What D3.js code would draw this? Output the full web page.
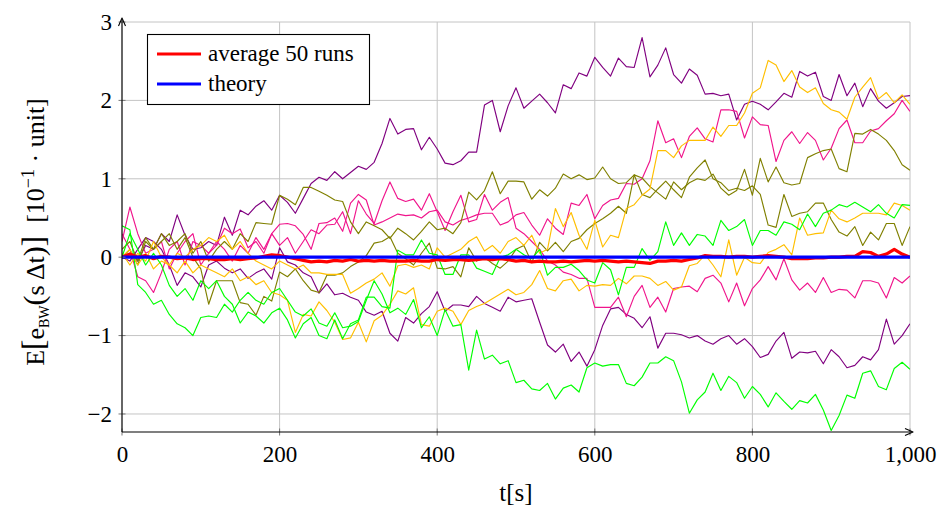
<!DOCTYPE html>
<html><head><meta charset="utf-8">
<script src="https://cdn.jsdelivr.net/npm/d3@7"></script>
<style>
body{margin:0;background:#fff}
text{font-family:"Liberation Serif","Times New Roman",serif;fill:#000}
</style>
</head><body><svg id="c" width="942" height="508"></svg>
<script>
// ---- data (sampled every 10 s) ----
const timeStep = 10;
const xTicks = [0, 200, 400, 600, 800, 1000];
const yTicks = [-2, -1, 0, 1, 2, 3];

const purpleA = [0,0.05,-0.05,0.15,0.1,0.3,0.2,0.54,0.28,0.1,
 0.12,0.2,0.15,0.51,0.28,0.6,0.54,0.65,0.72,0.6,
 0.79,0.7,0.56,0.75,0.94,1.02,0.98,1.09,1.0,1.08,
 1.16,1.12,1.21,1.45,1.77,1.57,1.63,1.64,1.37,1.53,
 1.38,1.2,1.18,1.23,1.34,1.34,1.94,2.0,1.6,1.93,
 2.16,1.9,1.99,2.08,1.97,1.84,2.2,2.15,2.35,2.31,
 2.55,2.42,2.31,2.54,2.43,2.42,2.8,2.3,2.45,2.67,
 2.33,2.22,2.4,2.32,2.08,2.09,2.06,2.08,1.75,1.95,
 1.99,1.95,1.88,1.98,2.09,2.04,2.37,2.31,2.36,2.05,
 2.0,2.33,2.06,2.22,1.92,2.15,1.99,1.9,1.97,2.05,
 2.06];
const purpleB = [0,-0.05,0.1,0.25,0.2,0.1,-0.1,-0.36,-0.2,-0.25,
 -0.38,-0.1,-0.05,-0.14,-0.2,-0.15,-0.27,-0.2,-0.15,-0.28,
 0.12,-0.06,-0.1,-0.2,-0.25,-0.46,-0.34,-0.48,-0.46,-0.51,
 -0.55,-0.7,-0.74,-0.69,-0.97,-1.07,-0.77,-0.84,-0.72,-0.63,
 -0.44,-0.69,-0.61,-0.61,-0.63,-0.5,-0.59,-0.64,-0.69,-0.51,
 -0.57,-0.55,-0.53,-0.83,-1.12,-1.21,-1.11,-1.33,-1.21,-1.39,
 -1.18,-0.87,-0.66,-0.64,-0.73,-0.78,-0.9,-0.76,-1.16,-0.97,
 -0.97,-0.99,-1.03,-1.0,-1.07,-1.11,-1.04,-1.0,-1.11,-1.04,
 -1.14,-1.28,-1.24,-1.07,-0.96,-1.29,-1.21,-1.22,-1.2,-1.36,
 -1.18,-1.27,-1.41,-1.38,-1.27,-1.31,-1.18,-0.79,-1.11,-1.0,
 -0.85];
const magentaA = [0.3,0.1,-0.25,-0.3,-0.45,-0.2,0.1,0.2,-0.1,0.2,
 0.15,0.05,0.15,0.37,0.3,0.36,0.12,0.2,0.05,0.3,
 0.42,0.43,0.4,0.29,0.1,0.43,0.44,0.5,0.33,0.69,
 0.8,0.73,0.41,0.45,0.5,0.55,0.53,0.54,0.5,0.58,
 0.6,0.45,0.41,0.47,0.5,0.54,0.56,0.56,0.41,0.45,
 0.54,0.57,0.41,0.28,0.49,0.37,0.29,0.69,0.66,0.8,
 0.49,0.66,0.73,0.75,0.94,0.93,1.0,1.23,1.74,1.46,
 1.51,1.27,1.54,1.65,1.51,1.47,1.88,1.88,1.86,1.52,
 1.79,1.69,1.68,1.22,1.49,1.6,1.45,1.59,1.49,1.24,
 1.39,1.64,1.75,1.46,1.46,1.61,1.64,1.74,1.83,2.0,
 1.86];
const magentaB = [0.2,0.64,0.3,0.05,0.1,0.2,-0.15,0.05,0.2,0.3,
 -0.1,0.05,0.2,0.1,-0.05,0.15,0.05,0.25,0.1,0.3,
 0.15,0.25,0.05,0.2,0.35,0.3,0.41,0.42,0.58,0.3,
 0.72,0.55,0.43,0.72,0.96,0.75,0.71,0.74,0.6,0.81,
 0.58,0.34,0.58,0.79,0.45,0.48,0.8,0.6,0.7,0.76,
 0.37,0.3,0.2,0.1,-0.05,-0.1,-0.19,-0.22,-0.27,-0.27,
 -0.64,-0.64,-0.64,-0.51,-0.76,-0.5,-0.36,-0.64,-0.51,-0.7,
 -0.4,-0.38,-0.37,-0.44,-0.27,-0.23,-0.33,-0.57,-0.33,-0.62,
 -0.4,-0.29,-0.12,-0.29,-0.02,-0.29,-0.42,-0.33,-0.45,-0.26,
 -0.45,-0.41,-0.42,-0.52,-0.3,-0.3,-0.33,-0.52,-0.26,-0.33,
 -0.24];
const oliveA = [0.0,0.1,-0.1,0.2,0.1,0.3,0.15,0.2,0.3,0.05,
 0.2,-0.05,0.1,0.2,0.1,0.3,0.2,0.44,0.43,0.42,
 0.79,0.74,0.67,0.89,0.89,0.84,0.79,0.73,0.71,0.45,
 0.3,0.45,0.4,0.35,0.24,0.37,0.3,0.22,0.33,0.45,
 0.35,0.37,0.3,0.44,0.83,0.73,0.85,1.09,0.81,0.97,
 0.97,0.96,0.74,0.86,0.78,0.88,1.06,1.0,1.05,0.99,
 1.01,1.15,1.0,0.94,0.95,1.05,1.01,0.9,0.82,0.74,
 0.96,0.86,0.95,1.0,0.98,1.06,0.88,0.79,0.85,1.12,
 0.79,1.26,0.96,1.15,0.95,0.92,0.94,1.27,1.32,1.36,
 1.38,1.13,1.09,1.58,1.57,1.63,1.57,1.49,1.36,1.18,
 1.11];
const oliveB = [0.1,0.2,-0.05,0.25,0.1,0.2,0.3,0.1,0.25,0.0,
 -0.15,-0.6,-0.3,-0.3,-0.3,-0.58,-0.6,-0.74,-0.5,-0.56,
 -0.19,-0.25,-0.15,-0.3,-0.42,-0.45,-0.23,-0.23,-0.2,-0.12,
 -0.06,0.02,0.18,0.2,0.26,0.05,-0.02,-0.1,0.05,0.18,
 -0.14,-0.15,-0.12,-0.25,0.12,-0.05,0.0,-0.08,-0.14,-0.05,
 0.1,0.15,-0.07,0.19,0.08,0.19,0.07,0.2,0.24,0.35,
 0.43,0.49,0.56,0.65,0.56,1.05,0.8,0.76,0.87,0.97,
 0.86,0.76,1.02,1.14,1.24,1.0,0.95,0.85,0.88,0.85,
 0.91,0.8,0.41,0.38,0.8,0.52,0.56,0.58,0.69,0.69,
 0.48,0.32,0.27,0.39,0.15,0.32,0.22,0.43,0.43,0.15,
 0.39];
const orangeA = [0.05,-0.1,0.05,-0.05,0.2,0.0,-0.1,0.05,0.0,0.1,
 0.15,0.25,0.2,0.28,0.1,0.2,0.05,-0.05,-0.1,-0.15,
 -0.05,-0.1,-0.15,-0.1,-0.2,-0.2,-0.22,-0.22,-0.22,-0.46,
 -0.4,-0.33,-0.28,-0.2,-0.37,-0.11,-0.09,-0.13,-0.1,-0.15,
 0.12,0.0,0.05,0.1,0.2,0.26,0.08,0.15,0.05,0.2,
 0.25,0.15,0.28,0.05,0.1,0.62,0.39,0.57,0.28,0.1,
 0.47,0.13,0.28,0.25,0.62,0.67,0.79,0.87,1.36,1.36,
 1.27,1.42,1.49,1.49,1.49,1.66,1.54,1.68,1.68,1.84,
 2.09,2.16,2.51,2.45,2.24,2.38,2.17,2.1,2.16,1.96,
 1.88,1.85,1.76,2.04,2.17,2.29,2.02,2.1,1.97,2.07,
 1.95];
const orangeB = [0.0,0.1,-0.1,0.05,-0.15,-0.05,-0.1,-0.2,-0.05,-0.2,
 -0.1,-0.15,-0.2,-0.25,-0.15,-0.3,-0.25,-0.35,-0.3,-0.45,
 -0.48,-0.55,-0.96,-0.73,-0.75,-0.57,-0.68,-0.83,-1.05,-1.03,
 -0.83,-1.08,-0.81,-0.74,-0.6,-0.43,-0.47,-0.39,-0.86,-0.88,
 -0.69,-0.65,-0.69,-0.86,-0.68,-0.63,-0.59,-0.53,-0.47,-0.41,
 -0.48,-0.45,-0.35,-0.17,-0.4,-0.43,-0.3,-0.28,-0.43,-0.36,
 -0.37,-0.35,-0.36,-0.27,-0.34,-0.24,-0.24,-0.27,-0.36,-0.31,
 -0.42,-0.38,-0.11,-0.08,0.03,-0.1,-0.25,0.22,-0.23,0.0,
 -0.07,-0.08,0.06,0.1,0.16,0.03,0.5,0.28,0.3,0.31,
 0.6,0.49,0.45,0.5,0.56,0.56,0.56,0.54,0.69,0.66,
 0.6];
const greenA = [0.0,0.3,0.1,-0.1,0.05,-0.1,-0.36,-0.5,-0.4,-0.55,
 -0.3,-0.4,-0.3,-0.5,-0.6,-0.84,-0.7,-0.75,-0.84,-0.71,
 -0.65,-0.8,-1.03,-0.85,-0.77,-1.0,-1.04,-0.8,-1.04,-0.85,
 -0.8,-0.51,-0.51,-0.63,-0.65,0.09,0.03,0.03,0.22,0.05,
 0.03,-0.22,-0.22,0.03,0.03,-0.14,-0.18,-0.22,0.0,0.03,
 0.1,0.03,-0.02,0.1,-0.23,-0.13,-0.13,-0.09,-0.17,-0.29,
 -0.33,-0.07,-0.16,-0.48,-0.13,-0.13,0.11,-0.04,0.07,0.45,
 0.15,0.31,0.15,0.29,0.27,0.15,0.47,0.34,0.39,0.48,
 0.15,0.34,0.34,0.28,0.45,0.42,0.35,0.55,0.39,0.56,
 0.6,0.67,0.64,0.7,0.64,0.58,0.67,0.56,0.5,0.67,
 0.66];
const greenB = [0.4,0.35,-0.35,-0.45,-0.6,-0.55,-0.73,-0.85,-0.9,-1.0,
 -0.77,-0.75,-0.77,-0.6,-0.7,-0.55,-0.45,-0.55,-0.6,-0.45,
 -0.4,-0.55,-0.7,-0.75,-0.66,-0.84,-0.88,-0.71,-0.9,-0.88,
 -0.82,-0.55,-0.3,-0.47,-0.71,-0.65,-0.73,-0.54,-0.9,-0.76,
 -1.0,-0.67,-0.88,-0.86,-1.44,-0.93,-1.3,-1.25,-1.36,-1.32,
 -1.6,-1.57,-1.68,-1.7,-1.61,-1.81,-1.67,-1.63,-1.72,-1.41,
 -1.35,-1.39,-1.37,-1.37,-1.61,-1.64,-1.53,-1.35,-1.35,-1.27,
 -1.32,-1.59,-1.99,-1.82,-1.72,-1.48,-1.7,-1.52,-1.6,-1.8,
 -1.65,-1.75,-1.91,-1.73,-1.84,-1.94,-1.83,-1.86,-1.75,-1.95,
 -2.21,-2.02,-1.76,-1.8,-1.48,-1.45,-1.65,-1.69,-1.42,-1.34,
 -1.43];
const average50 = [0,0.04,0.0,0.02,-0.02,0.01,0.0,-0.02,-0.01,-0.03,
 -0.02,-0.02,-0.03,-0.03,-0.02,-0.03,-0.02,-0.01,0.01,0.03,
 0.02,0.0,-0.02,-0.04,-0.06,-0.05,-0.06,-0.04,-0.05,-0.03,
 -0.05,-0.04,-0.05,-0.04,-0.05,-0.05,-0.05,-0.04,-0.05,-0.05,
 -0.03,-0.04,-0.03,-0.03,-0.04,-0.03,-0.02,-0.03,-0.02,-0.03,
 -0.05,-0.04,-0.06,-0.05,-0.06,-0.06,-0.05,-0.06,-0.05,-0.04,
 -0.05,-0.04,-0.05,-0.06,-0.05,-0.06,-0.07,-0.08,-0.05,-0.05,
 -0.04,-0.05,-0.03,-0.01,0.02,0.01,0.01,0.0,0.01,0.01,
 0.0,0.01,0.02,0.01,0.0,-0.02,-0.02,-0.02,-0.01,-0.01,
 0.0,0.0,0.01,0.01,0.07,0.06,0.01,0.04,0.1,0.04,
 0.0];
const theoryT = [0, 1000];
const theoryV = [0, 0];

const runs = [
  {v: purpleA, c: "#800080"}, {v: purpleB, c: "#800080"},
  {v: magentaA, c: "#f0158c"}, {v: magentaB, c: "#f0158c"},
  {v: oliveA, c: "#808000"}, {v: oliveB, c: "#808000"},
  {v: orangeA, c: "#ffbf00"}, {v: orangeB, c: "#ffbf00"},
  {v: greenA, c: "#00ff00"}, {v: greenB, c: "#00ff00"}
];
const legendItems = [{label: "average 50 runs", c: "#ff0000"}, {label: "theory", c: "#0000ff"}];

// ---- layout ----
const svg = d3.select("#c");
const L = 122, R = 910, T = 22, B = 432;
const x = d3.scaleLinear().domain([0, 1000]).range([L, R]);
const y = d3.scaleLinear().domain([-2.23, 3]).range([B, T]);

// grid
const grid = svg.append("g").attr("stroke", "#c4c4c4").attr("stroke-width", 1);
xTicks.forEach(t => grid.append("line").attr("x1", x(t)).attr("x2", x(t)).attr("y1", B).attr("y2", T));
yTicks.forEach(v => grid.append("line").attr("x1", L).attr("x2", R).attr("y1", y(v)).attr("y2", y(v)));

svg.append("defs").append("clipPath").attr("id", "clip")
  .append("rect").attr("x", L).attr("y", T - 4).attr("width", R - L).attr("height", B - T + 4);

const plot = svg.append("g").attr("clip-path", "url(#clip)");
const line = d3.line().x((d, i) => x(i * timeStep)).y(d => y(d));
runs.forEach(r => plot.append("path").attr("d", line(r.v)).attr("fill", "none")
  .attr("stroke", r.c).attr("stroke-width", 1.15).attr("stroke-linejoin", "round"));
plot.append("path").attr("d", line(average50)).attr("fill", "none")
  .attr("stroke", "#ff0000").attr("stroke-width", 3.2).attr("stroke-linejoin", "round");
const tline = d3.line().x((d, i) => x(theoryT[i])).y(d => y(d));
plot.append("path").attr("d", tline(theoryV)).attr("fill", "none")
  .attr("stroke", "#0000ff").attr("stroke-width", 3.2);

// axes with d3
const xAxis = d3.axisBottom(x).tickValues(xTicks).tickSize(0).tickPadding(14)
  .tickFormat(d3.format(","));
const gx = svg.append("g").attr("transform", `translate(0,${B})`).call(xAxis);
gx.select(".domain").remove();
gx.selectAll("text").attr("font-size", 23).attr("font-family", '"Liberation Serif",serif').attr("dy", "0.71em");

const yAxis = d3.axisLeft(y).tickValues(yTicks).tickSize(0).tickPadding(10)
  .tickFormat(d => d < 0 ? "\u2212" + Math.abs(d) : d);
const gy = svg.append("g").attr("transform", `translate(${L},0)`).call(yAxis);
gy.select(".domain").remove();
gy.selectAll("text").attr("font-size", 23).attr("font-family", '"Liberation Serif",serif');

// tick marks
const tk = svg.append("g").attr("stroke", "#777").attr("stroke-width", 1);
xTicks.forEach(t => tk.append("line").attr("x1", x(t)).attr("x2", x(t)).attr("y1", B - 3.5).attr("y2", B + 3.5));
yTicks.forEach(v => tk.append("line").attr("x1", L - 3.5).attr("x2", L + 3.5).attr("y1", y(v)).attr("y2", y(v)));

// axis lines with arrows
const ax = svg.append("g").attr("stroke", "#000").attr("stroke-width", 1.1).attr("fill", "none");
ax.append("line").attr("x1", L).attr("x2", R + 2).attr("y1", B).attr("y2", B);
ax.append("line").attr("x1", L).attr("x2", L).attr("y1", B).attr("y2", T - 2);
ax.append("path").attr("d", `M${R - 5},${B - 3.5} L${R + 3},${B} L${R - 5},${B + 3.5}`).attr("stroke-linejoin", "round");
ax.append("path").attr("d", `M${L - 3.5},${T + 4} L${L},${T - 4} L${L + 3.5},${T + 4}`).attr("stroke-linejoin", "round");

// axis titles
svg.append("text").attr("x", (L + R) / 2).attr("y", 501).attr("text-anchor", "middle")
  .attr("font-size", 25).text("t[s]");
const yl = svg.append("text").attr("transform", "translate(44,232) rotate(-90)")
  .attr("text-anchor", "middle").attr("font-size", 26);
yl.append("tspan").text("E");
yl.append("tspan").attr("font-size", 31).text("[");
yl.append("tspan").text("e");
yl.append("tspan").attr("font-size", 14).attr("dy", 5).text("BW");
yl.append("tspan").attr("dy", -5).attr("font-size", 30).text("(");
yl.append("tspan").text("s\u2009\u0394t");
yl.append("tspan").attr("font-size", 30).text(")");
yl.append("tspan").attr("font-size", 31).text("]");
yl.append("tspan").text("\u2002[10");
yl.append("tspan").attr("font-size", 18).attr("dy", -10).text("\u22121");
yl.append("tspan").attr("dy", 10).text(" \u00b7 unit]");

// legend
const lg = svg.append("g");
lg.append("rect").attr("x", 147.5).attr("y", 34.5).attr("width", 222).attr("height", 70)
  .attr("fill", "#fff").attr("stroke", "#000").attr("stroke-width", 1.1);
legendItems.forEach((d, i) => {
  const yy = 54 + i * 30;
  lg.append("line").attr("x1", 157).attr("x2", 201).attr("y1", yy).attr("y2", yy)
    .attr("stroke", d.c).attr("stroke-width", 3.2);
  lg.append("text").attr("x", 208).attr("y", yy + 7).attr("font-size", 23).text(d.label);
});
</script></body></html>
